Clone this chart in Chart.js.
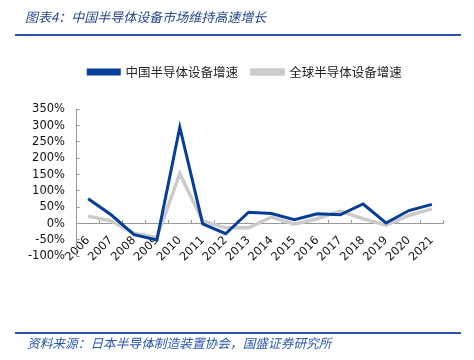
<!DOCTYPE html>
<html>
<head>
<meta charset="utf-8">
<script src="https://cdn.jsdelivr.net/npm/chart.js@4"></script>
<style>
  body { margin: 0; background: #fff; }
  #wrap { position: relative; width: 474px; height: 360px; overflow: hidden; }
  #chart { position: absolute; left: 0; top: 0; }
  .titre { position: absolute; left: 25px; top: 7px; font: italic 13px "Noto Sans CJK SC"; color: #27498c; white-space: nowrap; }
  .regua { position: absolute; left: 15px; width: 446px; height: 2px; background: #2855a6; }
  .fonte { position: absolute; left: 27px; top: 333px; font: italic 12.7px "Noto Sans CJK SC"; color: #2a57b0; white-space: nowrap; }
</style>
</head>
<body>
<div id="wrap">
  <canvas id="chart" width="474" height="360"></canvas>
  <div class="titre">图表4：中国半导体设备市场维持高速增长</div>
  <div class="regua" style="top:34px"></div>
  <div class="regua" style="top:332px"></div>
  <div class="fonte">资料来源：日本半导体制造装置协会，国盛证券研究所</div>
</div>
<script>
// Dados (%)
const anos = ['2006','2007','2008','2009','2010','2011','2012','2013','2014','2015','2016','2017','2018','2019','2020','2021'];
const chinaCrescimento = [76, 27, -34, -50, 295, -1, -31, 35, 31, 12, 30, 27, 60, 2, 40, 59];
const globalCrescimento = [23, 8, -29, -42, 153, 8, -13, -13, 20, -2, 15, 38, 15, -5, 25, 45];
const nomesSeries = ['中国半导体设备增速', '全球半导体设备增速'];
const eixoY = { min: -100, max: 350, passo: 50 };

// Espaço extra abaixo da legenda
const espacoLegenda = {
  id: 'espacoLegenda',
  beforeInit(chart) {
    const fitOriginal = chart.legend.fit;
    chart.legend.fit = function () {
      fitOriginal.call(this);
      this.height += 21;
    };
  }
};

const ctx = document.getElementById('chart').getContext('2d');
new Chart(ctx, {
  type: 'line',
  data: {
    labels: anos,
    datasets: [{
      label: nomesSeries[0],
      data: chinaCrescimento,
      borderColor: '#053d97',
      backgroundColor: '#053d97',
      borderWidth: 3,
      pointRadius: 0,
      tension: 0
    }, {
      label: nomesSeries[1],
      data: globalCrescimento,
      borderColor: '#cbcbcb',
      backgroundColor: '#cbcbcb',
      borderWidth: 3.5,
      pointRadius: 0,
      tension: 0
    }]
  },
  options: {
    responsive: false,
    animation: false,
    layout: { padding: { left: 16, right: 0, top: 51.75, bottom: 103.7 } },
    plugins: {
      legend: {
        position: 'top',
        labels: {
          boxWidth: 31,
          boxHeight: 4,
          padding: 14,
          color: '#222',
          font: { family: '"Noto Sans CJK SC"', size: 12.5 }
        }
      },
      tooltip: { enabled: false }
    },
    scales: {
      x: {
        position: { y: 0 },
        offset: true,
        grid: { offset: true, drawOnChartArea: false, tickLength: -4, color: '#999' },
        border: { color: '#999', width: 1 },
        ticks: {
          autoSkip: false,
          minRotation: 45,
          maxRotation: 45,
          padding: 14,
          color: '#111',
          font: { family: '"DejaVu Sans"', size: 11.5 }
        }
      },
      y: {
        min: eixoY.min,
        max: eixoY.max,
        afterFit: s => { s.width = 60.7; },
        grid: { drawOnChartArea: false, tickLength: -3, color: '#999' },
        border: { color: '#999', width: 1 },
        ticks: {
          stepSize: eixoY.passo,
          autoSkip: false,
          padding: 14.7,
          color: '#111',
          font: { family: '"DejaVu Sans"', size: 11.5 },
          callback: v => v + '%'
        }
      },
      // eixo vazio só para reservar a margem direita
      yDireita: {
        type: 'linear',
        position: 'right',
        grid: { display: false },
        border: { display: false },
        ticks: { display: false },
        afterFit: s => { s.width = 30.7; }
      }
    }
  },
  plugins: [espacoLegenda]
});
</script>
</body>
</html>
